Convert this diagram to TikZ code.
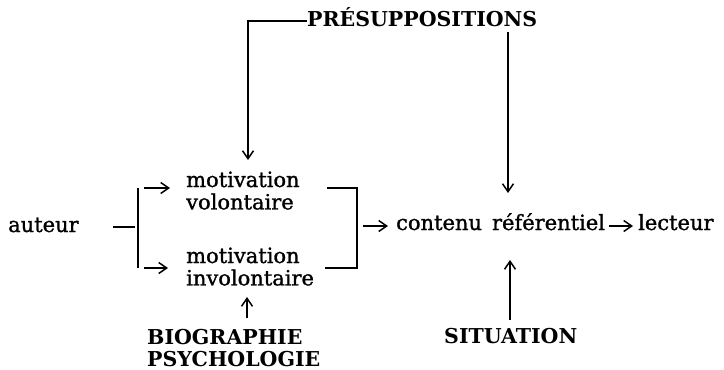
\documentclass[tikz,border=0pt]{standalone}
\usepackage{fontspec}
\setmainfont{DejaVu Serif}
\newfontfamily\lowfont{DejaVu Serif}[FakeBold=1.2]
\usetikzlibrary{arrows.meta}
\begin{document}
\begin{tikzpicture}[x=1pt,y=-1pt,
  txt/.style={inner sep=0pt, anchor=base west, font=\lowfont\fontsize{21}{21.5}\selectfont},
  captxt/.style={inner sep=0pt, anchor=base west, font=\fontsize{20.5}{22.5}\selectfont\bfseries},
  ln/.style={line width=1.3pt},
  arr/.style={line width=1.5pt, -{Straight Barb[length=8pt,width=11pt]}}]
\useasboundingbox (0,0) rectangle (724,370);

% texts
\node[captxt] (pres) at (307,26) {PRÉSUPPOSITIONS};
\node[txt] (aut) at (8,232) {auteur};
\node[txt] (mv) at (186,187) {\begin{tabular}[t]{@{}l@{}}motivation\\volontaire\end{tabular}};
\node[txt] (mi) at (186,263) {\begin{tabular}[t]{@{}l@{}}motivation\\involontaire\end{tabular}};
\node[txt] (cont) at (396,230) {contenu\hspace{10pt}référentiel};
\node[txt] (lect) at (638,230) {lecteur};
\node[captxt] (bio) at (147,344) {\begin{tabular}[t]{@{}l@{}}BIOGRAPHIE\\PSYCHOLOGIE\end{tabular}};
\node[captxt] (sit) at (444,343) {SITUATION};

% named end points
\coordinate (pL) at (248,21);
\coordinate (tipmv) at (248,160);
\coordinate (pR) at (508,32);
\coordinate (tipcr) at (508,193);
\coordinate (dashA) at (113,227);
\coordinate (dashB) at (135,227);
\coordinate (barT) at (138,188);
\coordinate (barB) at (138,268);
\coordinate (arTs) at (144,188);
\coordinate (arTe) at (170,188);
\coordinate (arBs) at (144,268);
\coordinate (arBe) at (168,268);
\coordinate (rT1) at (327,188);
\coordinate (rT2) at (357,188);
\coordinate (rB1) at (325,268);
\coordinate (rB2) at (357,268);
\coordinate (ac1) at (363,226);
\coordinate (ac2) at (388,226);
\coordinate (al1) at (609,226);
\coordinate (al2) at (633,226);
\coordinate (sitT) at (510,320);
\coordinate (sitTip) at (510,260);
\coordinate (bioT) at (247,318);
\coordinate (bioTip) at (247,297);

% connectors
\draw[arr] (pres.west |- pL) -- (pL) -- (tipmv);
\draw[arr] (pR) -- (tipcr);
\draw[ln] (dashA) -- (dashB);
\draw[ln] (barT) -- (barB);
\draw[arr] (arTs) -- (arTe);
\draw[arr] (arBs) -- (arBe);
\draw[ln] (rT1) -- (rT2) -- (rB2) -- (rB1);
\draw[arr] (ac1) -- (ac2);
\draw[arr] (al1) -- (al2);
\draw[arr] (sitT) -- (sitTip);
\draw[arr] (bioT) -- (bioTip);
\end{tikzpicture}
\end{document}
